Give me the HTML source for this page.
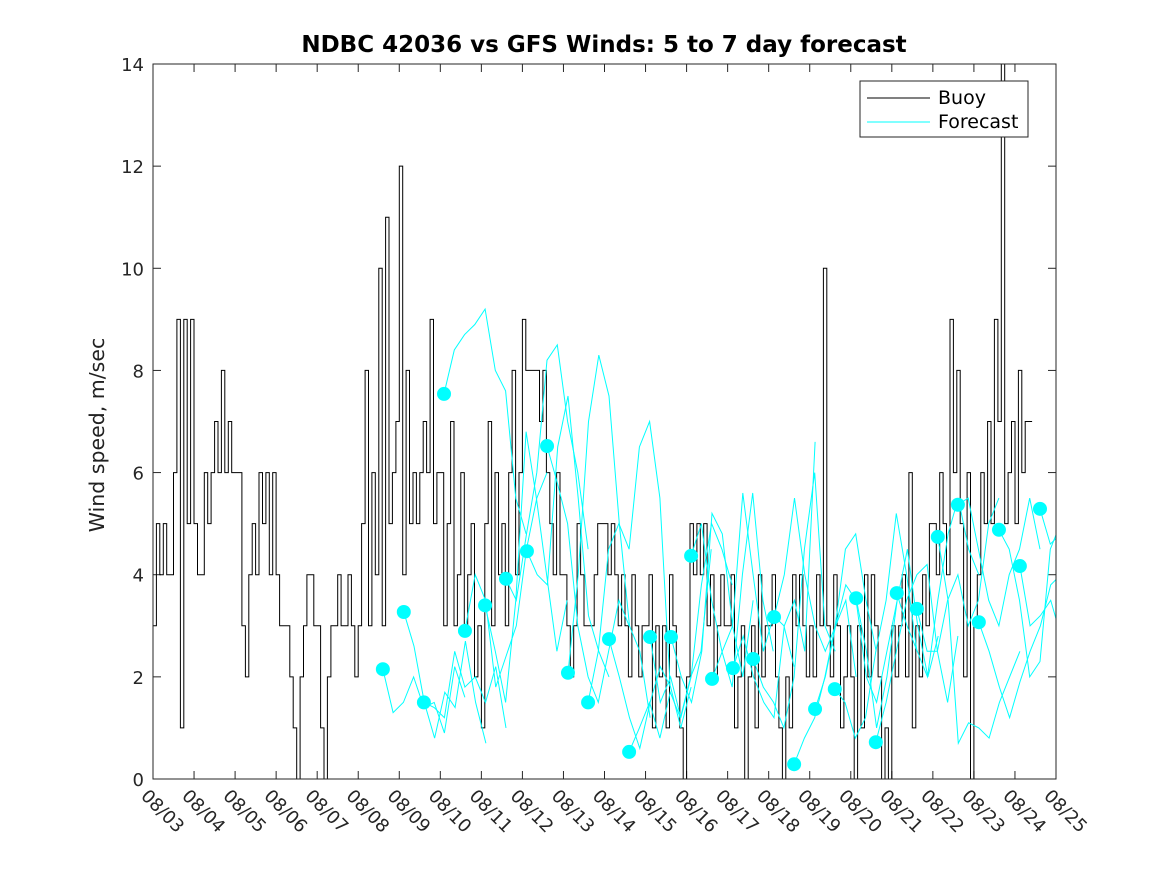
<!DOCTYPE html>
<html><head><meta charset="utf-8"><style>
body{margin:0;background:#fff;}
svg{display:block;font-family:"DejaVu Sans","Liberation Sans",sans-serif;}
</style></head><body>
<svg id="chart" width="1167" height="875" viewBox="0 0 1167 875">
<rect x="0" y="0" width="1167" height="875" fill="#fff"/>
<defs><clipPath id="pc"><rect x="153" y="64" width="903" height="715"/></clipPath></defs>
<text x="604" y="52" text-anchor="middle" font-size="23" font-weight="bold" fill="#000">NDBC 42036 vs GFS Winds: 5 to 7 day forecast</text>
<text transform="translate(104,435) rotate(-90)" text-anchor="middle" font-size="20.5" fill="#222">Wind speed, m/sec</text>
<g id="axes"></g>
<g id="series" clip-path="url(#pc)"></g>
<rect x="153" y="64" width="903" height="715" fill="none" stroke="#262626" stroke-width="1"/>
<g>
<rect x="860" y="81" width="168" height="56" fill="#fff" stroke="#262626" stroke-width="1"/>
<line x1="867" y1="98" x2="930" y2="98" stroke="#000" stroke-width="1"/>
<text x="938" y="104" font-size="19" fill="#000">Buoy</text>
<line x1="867" y1="122" x2="930" y2="122" stroke="#00ffff" stroke-width="1"/>
<text x="938" y="128" font-size="19" fill="#000">Forecast</text>
</g>
</svg>
<script>
const xTickLabels=["08/03","08/04","08/05","08/06","08/07","08/08","08/09","08/10","08/11","08/12","08/13","08/14","08/15","08/16","08/17","08/18","08/19","08/20","08/21","08/22","08/23","08/24","08/25"];
const yTicks=[0,2,4,6,8,10,12,14];
// buoy: 2-hourly values, day 0 = 08/03
const buoy=[
3,5,4,5,4,4,6,9,1,9,5,9,
5,4,4,6,5,6,7,6,8,6,7,6,
6,6,3,2,4,5,4,6,5,6,4,6,
4,3,3,3,2,1,0,2,3,4,4,3,
3,1,0,2,3,3,4,3,3,4,3,2,
3,5,8,3,6,4,10,3,11,5,6,7,
12,4,8,5,6,5,6,7,6,9,5,6,
6,3,5,7,3,4,6,3,4,5,2,3,
1,5,7,3,6,4,5,3,6,8,4,6,
9,8,8,8,8,7,8,6,5,4,6,4,
4,3,2,3,5,4,3,3,3,4,5,5,
5,4,5,4,3,4,3,2,4,3,2,3,
3,4,1,3,2,3,1,4,3,2,1,0,
2,5,4,5,4,5,3,4,2,3,4,3,
3,4,1,2,3,0,2,3,1,4,2,3,
3,4,2,1,0,2,1,4,3,4,3,2,
3,2,4,3,10,3,2,4,3,1,2,3,
2,0,3,1,4,2,4,3,2,0,1,0,
3,2,3,4,2,6,1,3,2,4,3,5,
5,4,6,5,4,9,6,8,5,2,6,0,
3,4,6,5,7,5,9,7,14,5,6,7,
5,8,6,7,7,7];
const runStart=[5.60,6.11,6.60,7.09,7.60,8.09,8.60,9.11,9.60,10.11,10.60,11.11,11.60,12.11,12.62,13.11,13.62,14.13,14.62,15.13,15.62,16.13,16.61,17.13,17.61,18.12,18.61,19.12,19.61,20.12,20.61,21.12,21.61];
const runVals=[
[2.15,1.3,1.5,2.0,1.4,1.5,0.9,2.2,1.6],
[3.27,2.6,1.5,0.8,1.7,1.4,2.7,1.5,0.7],
[1.5,1.4,1.2,2.5,1.8,2.0,1.5,2.2,1.0],
[7.54,8.4,8.7,8.9,9.2,8.0,7.6,5.5,4.8],
[2.9,4.0,3.5,1.8,2.4,3.0,4.5,5.5,6.0],
[3.4,2.5,1.5,3.5,6.8,5.5,4.0,2.5,3.5],
[3.92,3.5,4.8,6.0,8.2,8.5,7.0,6.0,4.5],
[4.46,4.0,3.8,6.5,7.5,5.5,3.2,2.5,2.0],
[6.52,5.8,5.0,3.0,2.0,1.5,2.5,3.5,3.0],
[2.08,4.0,7.0,8.3,7.5,5.0,3.0,2.5,1.2],
[1.5,2.5,4.5,5.0,4.5,6.5,7.0,5.5,1.8],
[2.74,2.0,1.2,0.6,1.5,2.2,1.8,1.0,1.8],
[0.53,1.0,1.5,0.8,1.7,1.2,2.0,2.5,4.5],
[2.78,1.5,2.0,1.2,2.0,3.8,5.0,4.5,3.8],
[2.78,2.0,1.5,2.5,5.2,4.8,3.0,2.0,3.5],
[4.37,5.0,3.5,2.5,1.8,4.0,5.6,3.5,2.5],
[1.96,2.5,3.0,5.6,4.0,2.5,3.2,3.0,2.2],
[2.17,2.8,2.0,1.5,1.2,3.0,3.5,2.5,6.6],
[2.35,1.8,1.5,1.0,2.0,4.5,6.0,3.0,2.5],
[3.17,4.0,5.5,4.0,3.0,2.5,3.0,3.5,2.0],
[0.29,0.8,1.2,2.0,3.0,4.5,4.8,3.5,2.5],
[1.37,2.0,3.0,3.8,3.5,2.0,1.5,2.5,3.5],
[1.76,1.5,0.8,1.2,2.5,3.5,5.2,4.0,2.5],
[3.54,2.5,1.0,2.0,3.5,4.5,3.0,2.0,2.8],
[0.72,1.5,2.5,3.5,4.0,4.2,2.5,1.5,2.8],
[3.64,3.0,2.5,2.0,3.5,4.8,5.5,4.5,4.0],
[3.33,2.5,2.5,3.5,4.0,3.0,3.5,5.0,5.5],
[4.74,3.5,0.7,1.1,1.0,0.8,1.5,2.0,2.5],
[5.37,5.5,4.5,3.5,3.0,4.0,4.5,5.5,4.5],
[3.07,2.5,1.8,1.2,1.9,2.5,3.0,3.8,4.0],
[4.88,4.5,3.5,2.0,2.3,4.5,5.0,4.0,4.7],
[4.17,3.0,3.2,3.5,2.8,3.3,2.8,2.5,2.8],
[5.29,4.6,4.8,4.0,4.3,4.0,4.2,4.0,4.1]];
const X0=153,X1=1056,Y0=779,Y1=64,NDAYS=22,YMAX=14;
const xs=d=>X0+(X1-X0)*d/NDAYS;
const ys=v=>Y0-(Y0-Y1)*v/YMAX;
const NS="http://www.w3.org/2000/svg";
const axes=document.getElementById('axes'),series=document.getElementById('series');
function mk(tag,attrs,parent){const e=document.createElementNS(NS,tag);for(const k in attrs)e.setAttribute(k,attrs[k]);parent.appendChild(e);return e;}
yTicks.forEach(v=>{
  const y=ys(v);
  mk('line',{x1:X0,y1:y,x2:X0+8,y2:y,stroke:'#262626'},axes);
  mk('line',{x1:X1,y1:y,x2:X1-8,y2:y,stroke:'#262626'},axes);
  const t=mk('text',{x:X0-9,y:y+7,'text-anchor':'end','font-size':18,fill:'#262626'},axes);
  t.textContent=v;
  
  
});
xTickLabels.forEach((lab,i)=>{
  const x=xs(i);
  mk('line',{x1:x,y1:Y0,x2:x,y2:Y0-8,stroke:'#262626'},axes);
  mk('line',{x1:x,y1:Y1,x2:x,y2:Y1+8,stroke:'#262626'},axes);
  const t=mk('text',{x:0,y:0,transform:`translate(${x-13},${Y0+18}) rotate(45)`,'font-size':18,fill:'#262626'},axes);
  t.textContent=lab;
  
  
});
let d='';
buoy.forEach((v,i)=>{const x=xs(i/12),y=ys(v);d+=(i?`H${x.toFixed(1)}V${y.toFixed(1)}`:`M${x.toFixed(1)},${y.toFixed(1)}`);});
const bl=mk('path',{d:d,fill:'none',stroke:'#000','stroke-width':1},series);


runVals.forEach((arr,r)=>{
  const pts=arr.map((v,k)=>`${xs(runStart[r]+k*0.25).toFixed(1)},${ys(v).toFixed(1)}`).join(' ');
  const pl=mk('polyline',{points:pts,fill:'none',stroke:'#00ffff','stroke-width':1},series);
  
  
});
runVals.forEach((arr,r)=>{
  const c=mk('circle',{cx:xs(runStart[r]),cy:ys(arr[0]),r:7,fill:'#00ffff'},series);
  
  
});
</script>
</body></html>
